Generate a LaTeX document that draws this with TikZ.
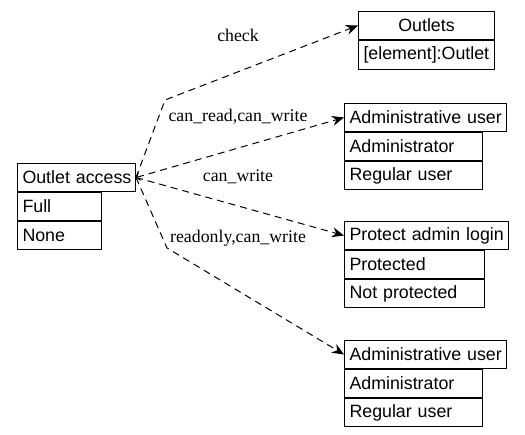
\documentclass[tikz,border=0pt]{standalone}
\usepackage{fontspec}
\setmainfont{Liberation Serif}
\setsansfont{Liberation Sans}
\usetikzlibrary{arrows.meta}
\begin{document}
\begin{tikzpicture}[x=1pt, y=-1pt, line join=round, >={Stealth[length=12pt,width=10pt,inset=4pt]},
	cell/.style={draw, line width=1pt, anchor=north west, minimum height=28pt, inner xsep=5pt, inner ysep=0pt, text width=#1, align=left,
		execute at begin node=\hbox to\linewidth\bgroup, execute at end node=\hfil\egroup, font=\sffamily\fontsize{17.8}{20}\selectfont},
	lbl/.style={font=\fontsize{17.8}{20}\selectfont},
	dep/.style={line width=1pt, dash pattern=on 7pt off 5pt}]
	\useasboundingbox (0,0) rectangle (525,434);
	% Outlet access
	\node[cell=108pt] (acc) at (17,163) {Outlet access};
	\node[cell=74pt] (accfull) at (acc.south west) {Full};
	\node[cell=74pt] (accnone) at (accfull.south west) {None};
	% Outlets
	\node[cell=126pt] (outl) at (358,11) {\hfil Outlets};
	\node[cell=126pt, minimum height=29pt] (outlel) at (outl.south west) {[element]:Outlet};
	% Administrative user (1)
	\node[cell=152pt] (adma) at (344,103) {Administrative user};
	\node[cell=128pt] (admaadm) at (adma.south west) {Administrator};
	\node[cell=128pt] (admareg) at (admaadm.south west) {Regular user};
	% Protect admin login
	\node[cell=154pt] (prot) at (344,221) {Protect admin login};
	\node[cell=130pt] (protyes) at (prot.south west) {Protected};
	\node[cell=130pt] (protno) at (protyes.south west) {Not protected};
	% Administrative user (2)
	\node[cell=152pt] (admb) at (344,340) {Administrative user};
	\node[cell=128pt] (admbadm) at (admb.south west) {Administrator};
	\node[cell=128pt] (admbreg) at (admbadm.south west) {Regular user};
	% Verbindungen
	\draw[dep,->] (acc.east) -- (165,100) -- (outl.west);
	\draw[dep,{Straight Barb[length=3pt,width=8pt]}-{Stealth[length=12pt,width=10pt,inset=4pt]}] (acc.east) -- (adma.west);
	\draw[dep,->] (acc.east) -- (prot.west);
	\draw[dep,->] (acc.east) -- (167,248) -- (admb.west);
	\node[lbl] (lcheck) at (238,35) {check};
	\node[lbl] (lrw) at (238,117) {can\_read,can\_write};
	\node[lbl] (lw) at (238,177) {can\_write};
	\node[lbl] (lro) at (238,238) {readonly,can\_write};
\end{tikzpicture}
\end{document}
